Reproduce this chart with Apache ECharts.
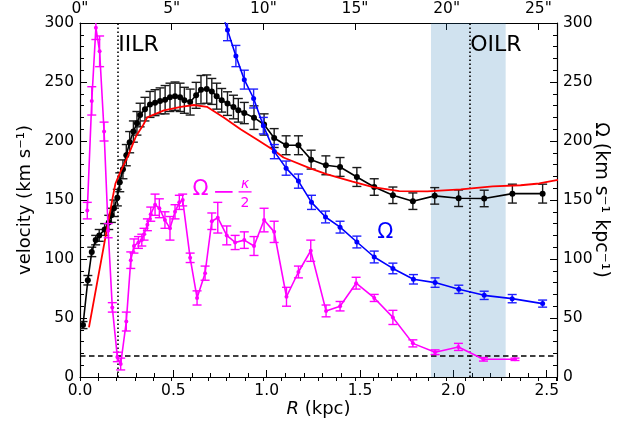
<!DOCTYPE html>
<html><head><meta charset="utf-8">
<script src="https://cdn.jsdelivr.net/npm/echarts@6/dist/echarts.min.js"></script>
<style>html,body{margin:0;padding:0;background:#fff}#c{width:632px;height:428px}</style>
</head><body><div id="c"></div>
<script>
// ---- data ----
const blackR = [0.016,0.042,0.063,0.084,0.103,0.132,0.154,0.168,0.182,0.2,0.213,0.23,0.248,0.266,0.286,0.305,0.322,0.348,0.375,0.402,0.429,0.456,0.482,0.509,0.536,0.559,0.59,0.622,0.648,0.679,0.706,0.732,0.759,0.79,0.822,0.848,0.88,0.932,0.986,1.04,1.104,1.17,1.238,1.317,1.393,1.483,1.576,1.676,1.783,1.9,2.028,2.165,2.316,2.478];
const blackV = [44,82,106,116,120,125,131,137,143,152,165,176,188,199,208,215,222,227,231,232.5,234,235,237,238,237,234.5,233,238.7,243.5,244,242,238,234.5,231.7,228.8,226,223.7,219.8,214,202.5,196.4,196.4,184.2,179.4,178,169.5,161,154,149,153.5,151.5,151.3,155.4,155.4];
const blackE = [3,4,4,4,5,5,6,6,7,7,8,8,9,9,9,10,10,10,11,11,11,12,12,12,12,11,11,11,12,12,11,11,10,10,10,10,9,10,9,8,8,8,8,8,8,8,7,7,7,7,7,7,8,8];

const redR = [0.048,0.175,0.19,0.214,0.259,0.3,0.34,0.36,0.45,0.54,0.61,0.68,0.77,0.86,0.95,1.04,1.09,1.23,1.32,1.46,1.57,1.71,1.86,2.04,2.21,2.36,2.46,2.56];
const redV = [42,152,164,173,188,204,214,220,226,229,230.5,229,220,210,201,192,186,177,172,165.5,161,157.5,157.3,159,161.5,162.5,164,167];

const blueR = [0.74,0.79,0.835,0.88,0.93,0.982,1.041,1.104,1.17,1.24,1.315,1.393,1.483,1.576,1.676,1.786,1.902,2.029,2.165,2.315,2.478];
const blueV = [320,294,272,252,236,213,191,177,166,148,135.6,127,114.4,101.7,92,82.8,80,74.3,69.2,66.4,62.2];
const blueE = [10,9,9,8,8,7,6,6,6,6,5,5,5,5,4.5,4,4,3.5,3.5,3.5,3];

const magR = [0.039,0.063,0.085,0.105,0.129,0.151,0.173,0.2,0.218,0.248,0.272,0.289,0.313,0.331,0.343,0.361,0.379,0.402,0.425,0.455,0.482,0.509,0.532,0.55,0.59,0.627,0.67,0.706,0.738,0.786,0.831,0.88,0.932,0.986,1.04,1.106,1.17,1.236,1.318,1.393,1.479,1.576,1.676,1.783,1.902,2.027,2.161,2.33];
const magV = [141,234,296,276,208,124,59,17,11,47,99,111,114,116,121,129,138,146,143,133,126,140,148,150,101,67,88,132,135,120,114,116,111,133,123,68,89,107,56,60,79.5,67,50.5,28.5,21,25.5,15,15];
const magE = [7,12,10,13,8,6,4,4,5,8,7,6,5,5,5,5,6,9,8,7,10,6,6,5,4,6,6,7,13,8,6,7,8,10,9,8,5,9,5,4,5,3,6,3,2,3,1.5,1];

const bandR = [1.88, 2.28];         // shaded OILR range
const resonanceR = [0.198, 2.087];  // IILR, OILR
const patternSpeed = [18];          // dashed horizontal
const xTicks = [0, 0.5, 1.0, 1.5, 2.0, 2.5];
const yTicks = [0, 50, 100, 150, 200, 250, 300];
const arcTicks = [0, 5, 10, 15, 20, 25];
const kpcPerArcsec = 0.0982;
const xMax = 2.555;

// ---- chart ----
const FONT = 'DejaVu Sans';
const chart = echarts.init(document.getElementById('c'), null, {renderer: 'canvas'});
const pairs = (R, V) => R.map((r, i) => [r, V[i]]);

function errSeries(R, V, E, color, cap, z) {
  return {
    type: 'custom', xAxisIndex: 0, yAxisIndex: 0, clip: true, silent: true, z: z,
    data: R.map((r, i) => [r, V[i] - E[i], V[i] + E[i]]),
    encode: {x: 0, y: [1, 2]},
    renderItem: function (params, api) {
      const lo = api.coord([api.value(0), api.value(1)]);
      const hi = api.coord([api.value(0), api.value(2)]);
      const s = {stroke: color, lineWidth: 1.4};
      return {type: 'group', children: [
        {type: 'line', shape: {x1: lo[0], y1: lo[1], x2: hi[0], y2: hi[1]}, style: s},
        {type: 'line', shape: {x1: lo[0] - cap, y1: lo[1], x2: lo[0] + cap, y2: lo[1]}, style: s},
        {type: 'line', shape: {x1: hi[0] - cap, y1: hi[1], x2: hi[0] + cap, y2: hi[1]}, style: s}
      ]};
    }
  };
}
function lineSeries(R, V, color, sym, width, z) {
  return {
    type: 'line', xAxisIndex: 0, yAxisIndex: 0, data: pairs(R, V), clip: true, z: z,
    symbol: sym > 0 ? 'circle' : 'none', symbolSize: sym, showSymbol: sym > 0,
    itemStyle: {color: color}, lineStyle: {color: color, width: width}, silent: true
  };
}

const axisLineStyle = {show: true, onZero: false, lineStyle: {color: '#000', width: 1.2}};
const labelStyle = {color: '#000', fontSize: 15.5, fontFamily: FONT};
const nameStyle = {color: '#000', fontSize: 18, fontFamily: FONT};

function mainX(pos, max, interval, fmt, extra) {
  return Object.assign({
    type: 'value', position: pos, min: 0, max: max, interval: interval, gridIndex: 0,
    axisLine: axisLineStyle,
    axisTick: {show: true, inside: true, length: 7, lineStyle: {color: '#000', width: 1}},
    minorTick: {show: false}, splitLine: {show: false},
    axisLabel: Object.assign({margin: 6, formatter: fmt, showMaxLabel: false, showMinLabel: true}, labelStyle)
  }, extra || {});
}
function minorX(pos, max, interval) {
  return {
    type: 'value', position: pos, min: 0, max: max, interval: interval, gridIndex: 0,
    axisLine: {show: false}, axisLabel: {show: false}, splitLine: {show: false},
    axisTick: {show: true, inside: true, length: 4, lineStyle: {color: '#000', width: 1}}
  };
}
function mainY(pos, extra) {
  return Object.assign({
    type: 'value', position: pos, min: yTicks[0], max: yTicks[yTicks.length - 1],
    interval: yTicks[1] - yTicks[0],
    axisLine: axisLineStyle,
    axisTick: {show: true, inside: true, length: 7, lineStyle: {color: '#000', width: 1}},
    minorTick: {show: true, splitNumber: 5, length: 4, lineStyle: {color: '#000', width: 1}},
    splitLine: {show: false}, minorSplitLine: {show: false},
    axisLabel: Object.assign({margin: 6}, labelStyle)
  }, extra);
}

const arcMax = xMax / kpcPerArcsec;

const option = {
  animation: false,
  backgroundColor: '#fff',
  grid: {left: 80, right: 75, top: 23, bottom: 51, containLabel: false},
  xAxis: [
    mainX('bottom', xMax, xTicks[1] - xTicks[0], v => v.toFixed(1), {
      name: '{i|R} (kpc)', nameLocation: 'middle', nameGap: 23, nameMoveOverlap: false,
      nameTextStyle: Object.assign({rich: {i: {fontStyle: 'italic', fontSize: 18, fontFamily: FONT, color: '#000'}}}, nameStyle)
    }),
    mainX('top', arcMax, arcTicks[1] - arcTicks[0], v => Math.round(v) + '"'),
    minorX('bottom', xMax, 0.1),
    minorX('top', arcMax, 1)
  ],
  yAxis: [
    mainY('left', {name: 'velocity (km s\u207B\u00B9)', nameLocation: 'middle', nameGap: 46, nameMoveOverlap: false, nameTextStyle: nameStyle}),
    mainY('right', {name: '\u03A9 (km s\u207B\u00B9 kpc\u207B\u00B9)', nameLocation: 'middle', nameGap: 34, nameRotate: -90, nameMoveOverlap: false,
      nameTextStyle: Object.assign({}, nameStyle, {fontSize: 19})})
  ],
  series: [
    {
      type: 'line', xAxisIndex: 0, yAxisIndex: 0, data: [], z: 1, silent: true,
      markArea: {silent: true, itemStyle: {color: 'rgba(31,119,180,0.21)'},
        data: [[{xAxis: bandR[0]}, {xAxis: bandR[1]}]]},
      markLine: {silent: true, symbol: ['none', 'none'], label: {show: false},
        data: [
          {xAxis: resonanceR[0], lineStyle: {color: '#000', width: 1.6, type: [1.6, 2.4]}},
          {xAxis: resonanceR[1], lineStyle: {color: '#000', width: 1.6, type: [1.6, 2.4]}},
          {yAxis: patternSpeed[0], lineStyle: {color: '#000', width: 1.5, type: [5.5, 3.5]}}
        ]}
    },
    errSeries(blackR, blackV, blackE, '#1a1a1a', 4.5, 3),
    lineSeries(blackR, blackV, '#000000', 6, 1.6, 4),
    lineSeries(redR, redV, '#ff0000', 0, 1.8, 5),
    errSeries(blueR, blueV, blueE, '#1f1fff', 4.5, 6),
    lineSeries(blueR, blueV, '#0000ff', 5, 1.6, 7),
    errSeries(magR, magV, magE, '#ff00ff', 4.5, 8),
    lineSeries(magR, magV, '#ff00ff', 4, 1.6, 9)
  ]
};
chart.setOption(option);

// ---- annotations, anchored in data coordinates ----
const px = (r, v) => chart.convertToPixel({xAxisIndex: 0, yAxisIndex: 0}, [r, v]);
const pIILR = px(0.205, 281.5);
const pOILR = px(2.09, 281.5);
const pOmega = px(1.635, 122);
const pOK = px(0.603, 159);
const txt = (p, text, color, size, align, extra) => ({
  type: 'text', x: p[0], y: p[1], z: 100, silent: true,
  style: Object.assign({text: text, fill: color, fontSize: size, fontFamily: FONT, align: align, verticalAlign: 'middle'}, extra || {})
});
const ln = (x1, y1, x2, y2, color, w) => ({
  type: 'line', z: 100, silent: true, shape: {x1: x1, y1: y1, x2: x2, y2: y2}, style: {stroke: color, lineWidth: w}
});
const M = '#ff00ff';
chart.setOption({graphic: [
  txt(pIILR, 'IILR', '#000', 22, 'left'),
  txt(pOILR, 'OILR', '#000', 22, 'left'),
  txt(pOmega, '\u03A9', '#0000ff', 21, 'center'),
  txt(pOK, '\u03A9', M, 21, 'left'),
  ln(pOK[0] + 22.5, pOK[1] + 2.5, pOK[0] + 40, pOK[1] + 2.5, M, 1.8),
  txt([pOK[0] + 52.5, pOK[1] - 5], '\u03BA', M, 14, 'center', {fontStyle: 'italic'}),
  ln(pOK[0] + 46, pOK[1] + 2.5, pOK[0] + 59, pOK[1] + 2.5, M, 1.3),
  txt([pOK[0] + 52.5, pOK[1] + 13.5], '2', M, 14, 'center')
]});
</script></body></html>
